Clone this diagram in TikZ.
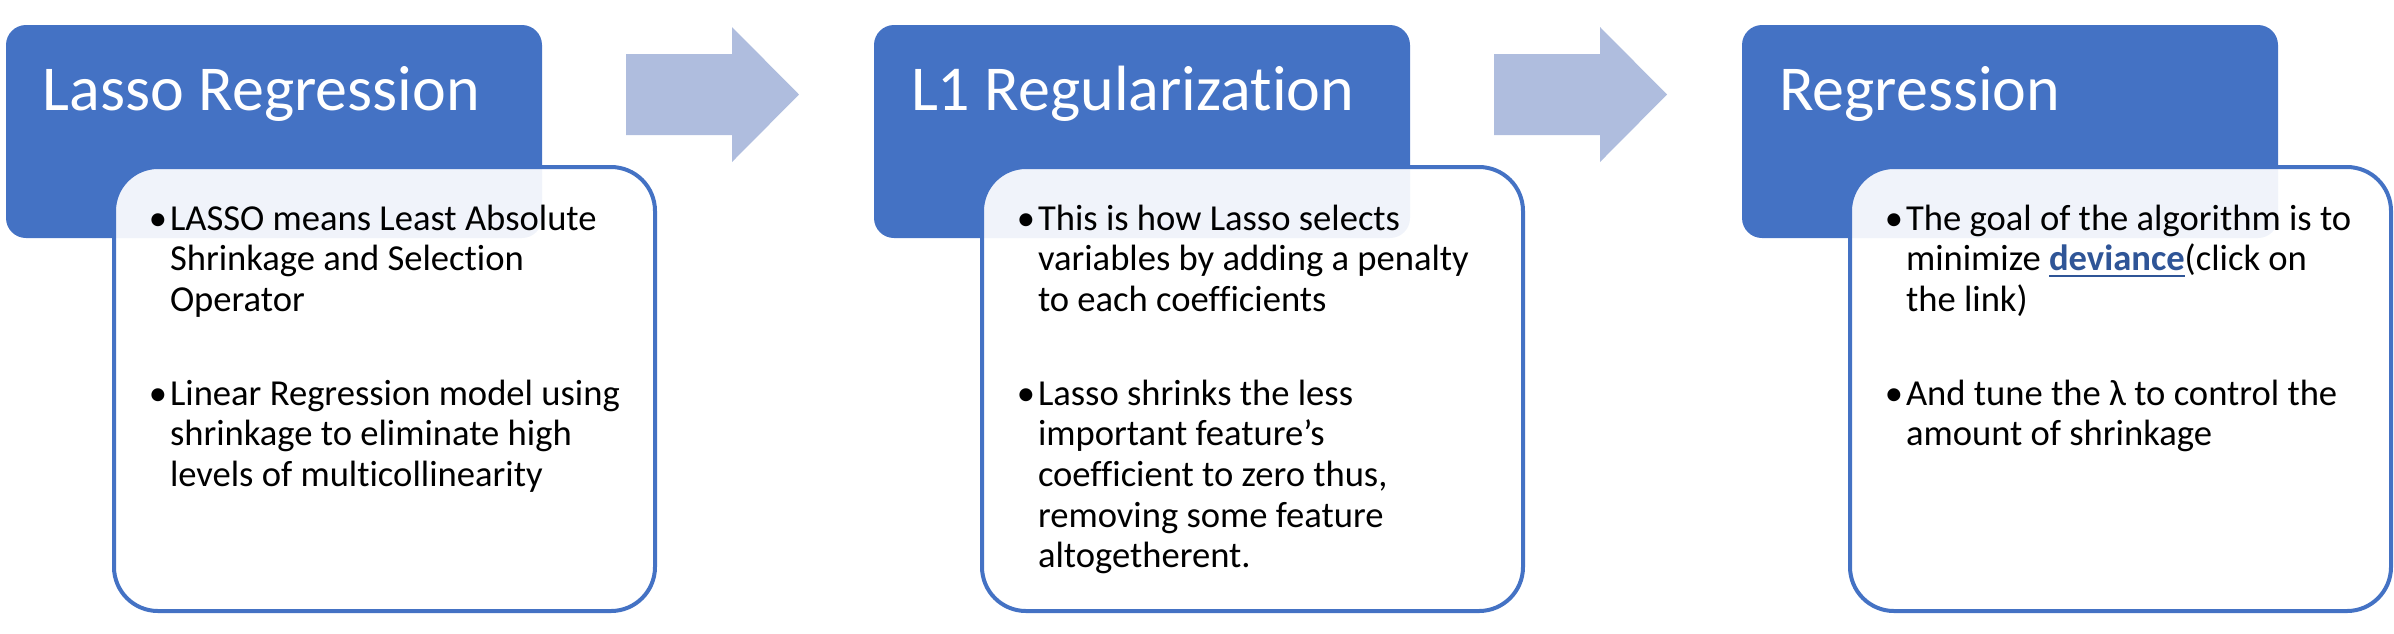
\documentclass[tikz,border=0pt]{standalone}
\usepackage{fontspec}
\setmainfont{Carlito}[Ligatures=NoCommon]
\usepackage{xcolor}
\definecolor{hdr-blue}{HTML}{4472C4}
\definecolor{arrow-blue}{HTML}{AFBDDE}
\definecolor{link-blue}{HTML}{2F5597}
\usetikzlibrary{positioning}

\begin{document}
\begin{tikzpicture}[x=0.1mm, y=-0.1mm,
      every node/.style={inner sep=0pt, outer sep=0pt},
      hdrbox/.style={fill=hdr-blue, rounded corners=2mm, anchor=north west,
        minimum width=53.6mm, minimum height=21.3mm},
      bodybox/.style={draw=hdr-blue, line width=0.4mm, fill=white, fill opacity=0.92,
        rounded corners=4.4mm, anchor=north west, minimum width=54.1mm, minimum height=44.4mm},
      titletxt/.style={text=white, font=\fontsize{6.4mm}{7.7mm}\selectfont, anchor=base west},
      bodytxt/.style={font=\fontsize{3.66mm}{4.07mm}\selectfont, anchor=base west},
      bulletdot/.style={font=\fontsize{3.66mm}{4.07mm}\selectfont, anchor=base}]
    \useasboundingbox (0,0) rectangle (2394,633);
    % three panels: header, then body laid over it
    \foreach \i/\n/\t in {0/A/Lasso Regression, 1/B/L1 Regularization, 2/C/Regression} {
      \node[hdrbox] (hdr\n) at (6+868*\i,25) {};
      \node[titletxt] (title\n) at (43+868*\i,110) {\t};
      \node[bodybox] (body\n) at (114+868*\i,167) {};
      \node[bulletdot] (dot\n1) at (158+868*\i,230) {\textbullet};
      \node[bulletdot] (dot\n2) at (158+868*\i,405) {\textbullet};
    }
    % block arrows between the panels
    \foreach \i in {0,1}
      \fill[arrow-blue] (626+868*\i,54) -- (732+868*\i,54) -- (732+868*\i,27)
        -- (799+868*\i,94.5) -- (732+868*\i,162) -- (732+868*\i,135)
        -- (626+868*\i,135) -- cycle;
    \node[bodytxt] (txtA1) at (170,230) {\begin{tabular}[t]{@{}l@{}}LASSO means Least Absolute\\Shrinkage and Selection\\Operator\end{tabular}};
    \node[bodytxt] (txtA2) at (170,405) {\begin{tabular}[t]{@{}l@{}}Linear Regression model using\\shrinkage to eliminate high\\levels of multicollinearity\end{tabular}};
    \node[bodytxt] (txtB1) at (1038,230) {\begin{tabular}[t]{@{}l@{}}This is how Lasso selects\\variables by adding a penalty\\to each coefficients\end{tabular}};
    \node[bodytxt] (txtB2) at (1038,405) {\begin{tabular}[t]{@{}l@{}}Lasso shrinks the less\\important feature’s\\coefficient to zero thus,\\removing some feature\\altogetherent.\end{tabular}};
    \node[bodytxt] (txtC1) at (1906,230) {\begin{tabular}[t]{@{}l@{}}The goal of the algorithm is to\\minimize \textcolor{link-blue}{\underline{\textbf{deviance}}}(click on\\the link)\end{tabular}};
    \node[bodytxt] (txtC2) at (1906,405) {\begin{tabular}[t]{@{}l@{}}And tune the λ to control the\\amount of shrinkage\end{tabular}};
  \end{tikzpicture}
\end{document}
